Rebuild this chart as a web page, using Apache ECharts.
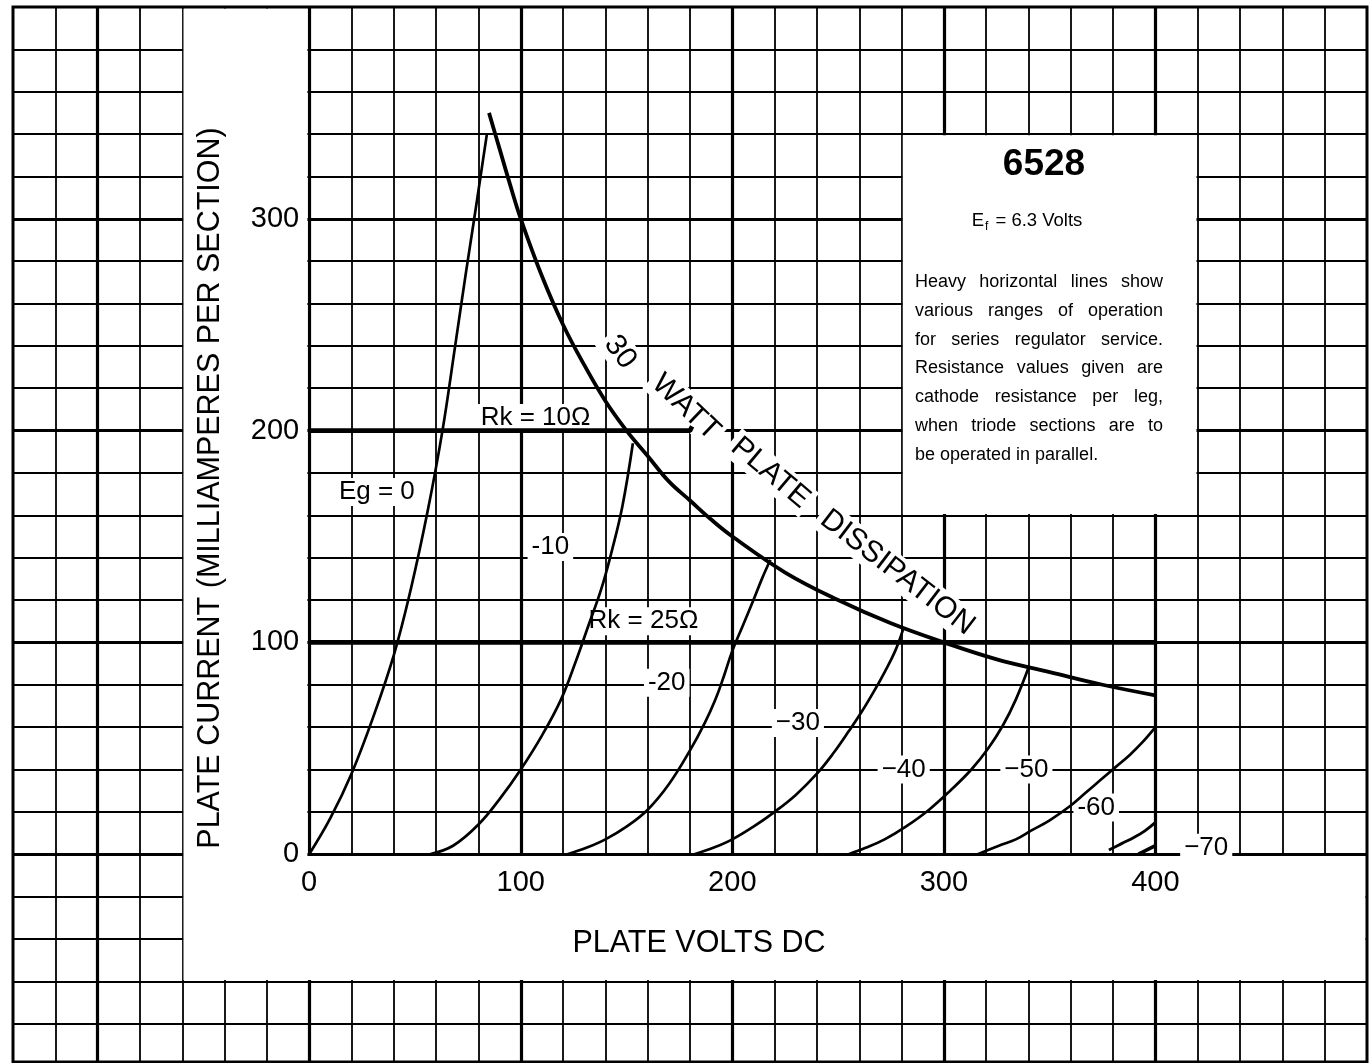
<!DOCTYPE html>
<html><head><meta charset="utf-8">
<script src="https://cdn.jsdelivr.net/npm/echarts/dist/echarts.min.js"></script>
<style>html,body{margin:0;padding:0;background:#fff}#c{width:1369px;height:1063px}</style>
</head><body><div id="c"></div>
<script>
// ---------- data ----------
const xTickLabels = [0, 100, 200, 300, 400];
const yTickLabels = [0, 100, 200, 300];
const heavyX = [-100, 0, 100, 200, 300, 400];
const heavyY = [0, 100, 200, 300];
const curveEg0  = [[0,0],[10,17],[20,38],[30,64],[40,94],[48,125],[56,162],[63,200],[69,240],[74,274],[78,300],[81,320],[84,340]];
const curveEg10 = [[57,0],[68,4],[80,14],[90,26],[100,40],[110,56],[119,73],[126,91],[132,108],[138,125],[143,143],[148,164],[153,194]];
const curveEg20 = [[122,0],[131,3],[140,7],[150,13],[160,21],[170,33],[180,49],[187,62],[192,73],[196,84],[200,96],[205,108],[210,120],[214,130],[218,139]];
const curveEg30 = [[182,0],[191,3],[200,7],[210,13],[220,20],[230,28],[240,38],[248,48],[255,58],[261,67],[267,77],[272,86],[277,96],[281,107]];
const curveEg40 = [[255,0],[263,3],[272,7],[282,13],[293,21],[303,30],[313,40],[321,50],[328,61],[334,73],[340,88]];
const curveEg50 = [[316,0],[326,4],[334,7],[341,11],[350,16],[360,23],[367,29],[374,35],[381,41],[388,47],[394,53],[400,60]];
const curveEg60 = [[378,2],[384,5],[390,8],[395,11],[400,15]];
const curveEg70 = [[392,0],[400,4]];
const watt30 = [[85,350],[90,333],[95,316],[100,300],[110,273],[120,250],[130,231],[140,214],[150,200],[160,188],[170,176],[180,167],[190,158],[200,150],[225,133],[250,120],[275,109],[300,100],[325,92],[350,86],[375,80],[400,75]];
const rk10 = [[0,200],[180,200],[181,202]];
const rk25 = [[0,100],[400,100]];
const curveLabelText = ['Eg = 0', '-10', '-20', '\u221230', '\u221240', '\u221250', '-60', '\u221270', 'Rk = 10\u03A9', 'Rk = 25\u03A9'];
const dissipationWords = ['30', 'WATT', 'PLATE', 'DISSIPATION'];
const noteLines = ['Heavy horizontal lines show','various ranges of operation','for series regulator service.','Resistance values given are','cathode resistance per leg,','when triode sections are to','be operated in parallel.'];
const titleText = '6528';
const yTitle = 'PLATE CURRENT (MILLIAMPERES PER SECTION)';
const xTitle = 'PLATE VOLTS DC';

// ---------- chart ----------
const F = '"Liberation Sans", Arial, sans-serif';
const GX = {min:-140, max:500}, GY = {min:-100, max:400};
const GRID = {left:13, top:7, width:1354, height:1059};
const chart = echarts.init(document.getElementById('c'));
function curve(d, w, z) {
  return {type:'line', data:d, xAxisIndex:0, yAxisIndex:0, showSymbol:false, smooth:0.4, silent:true,
          lineStyle:{color:'#000', width:w}, z:z||4, animation:false};
}
const yAxisShift = -(0 - GX.min) / (GX.max - GX.min) * GRID.width;
const xAxisShift = -(0 - GY.min) / (GY.max - GY.min) * GRID.height;
const option = {
  animation:false,
  backgroundColor:'#fff',
  grid:{left:GRID.left, top:GRID.top, width:GRID.width, height:GRID.height, containLabel:false, outerBoundsMode:'none'},
  xAxis:[
    {type:'value', min:GX.min, max:GX.max, interval:20, position:'bottom', z:0,
     axisLine:{show:false, onZero:false}, axisTick:{show:false}, axisLabel:{show:false},
     splitLine:{show:true, lineStyle:{color:'#000', width:1.8}}},
    {type:'value', min:GX.min, max:GX.max, interval:20, position:'bottom', z:5, offset:xAxisShift,
     axisLine:{show:false, onZero:false}, axisTick:{show:false},
     splitLine:{show:false},
     axisLabel:{formatter:v => xTickLabels.includes(v) ? String(v) : '', fontSize:29, fontFamily:F, color:'#000', margin:14}}
  ],
  yAxis:[
    {type:'value', min:GY.min, max:GY.max, interval:20, position:'left', z:0,
     axisLine:{show:false, onZero:false}, axisTick:{show:false}, axisLabel:{show:false},
     splitLine:{show:true, lineStyle:{color:'#000', width:1.8}}},
    {type:'value', min:GY.min, max:GY.max, interval:20, position:'left', z:5, offset:yAxisShift,
     axisLine:{show:false, onZero:false}, axisTick:{show:false},
     splitLine:{show:false},
     axisLabel:{formatter:v => yTickLabels.includes(v) ? String(v) : '', fontSize:29, fontFamily:F, color:'#000', margin:10}}
  ],
  series:[
    {type:'line', data:[], xAxisIndex:0, yAxisIndex:0, z:1, silent:true,
     markLine:{z:1, silent:true, symbol:'none', animation:false, label:{show:false},
       lineStyle:{color:'#000', width:3.2, type:'solid'},
       data:[...heavyX.map(v => ({xAxis:v})), ...heavyY.map(v => ({yAxis:v}))]}},
    {type:'line', data:[], xAxisIndex:0, yAxisIndex:0, z:2, silent:true,
     markArea:{z:2, silent:true, animation:false, itemStyle:{color:'#fff', opacity:1},
       data:[
         [{coord:[-59.4,-59.4]},{coord:[-0.85,399.3]}],
         [{coord:[-3,-59.4]},{coord:[499.3,-0.85]}],
         [{coord:[280.6,160.6]},{coord:[419.4,339.4]}]
       ]}},
    curve(curveEg0, 2.7), curve(curveEg10, 2.7), curve(curveEg20, 2.7), curve(curveEg30, 2.7),
    curve(curveEg40, 2.7), curve(curveEg50, 2.7), curve(curveEg60, 2.9), curve(curveEg70, 3.6),
    curve(watt30, 3.8),
    {type:'line', data:rk10, showSymbol:false, silent:true, lineStyle:{color:'#000', width:4.6}, z:4},
    {type:'line', data:rk25, showSymbol:false, silent:true, lineStyle:{color:'#000', width:4.6}, z:4}
  ]
};
chart.setOption(option);

const P = (v, i) => chart.convertToPixel({xAxisIndex:0, yAxisIndex:0}, [v, i]);
function txt(x, y, text, font, opts) {
  opts = opts || {};
  return {type:'text', x:x, y:y, rotation:opts.rot || 0, z:opts.z || 3, silent:true,
    style:{x:0, y:0, text:text, font:font, fill:'#000',
      align:opts.align || 'center', textAlign:opts.align || 'center',
      verticalAlign:'middle', textVerticalAlign:'middle',
      backgroundColor:opts.bg ? '#fff' : null, padding:opts.bg ? [1,4,1,4] : 0}};
}
const labelAt = [[32,171],[114,145],[169,81],[231,62],[281,40],[339,40],[372,22],[424,3],[107,206],[158,110]];
const dissAt = [[147,237,-0.92],[178,211,-0.76],[218,180,-0.70],[278,133,-0.655]];
const g = [];
curveLabelText.forEach((t, k) => { const p = P(labelAt[k][0], labelAt[k][1]); g.push(txt(p[0], p[1], t, '26px ' + F, {bg:true})); });
dissipationWords.forEach((t, k) => { const p = P(dissAt[k][0], dissAt[k][1]); g.push(txt(p[0], p[1], t, '30px ' + F, {bg:true, rot:dissAt[k][2]})); });
g.push(txt(211, 488, yTitle, '30.5px ' + F, {rot:Math.PI/2, z:6}));
g.push(txt(699, 944, xTitle, '30.5px ' + F, {z:6}));
g.push(txt(1044, 165, titleText, 'bold 37px ' + F, {z:6}));
g.push({type:'text', x:1027, y:221, z:6, silent:true,
  style:{x:0, y:0, text:'{a|E}{b|f}{a| = 6.3 Volts}', align:'center', textAlign:'center', verticalAlign:'middle', textVerticalAlign:'middle',
    rich:{a:{font:'18.5px ' + F, fill:'#000', color:'#000', lineHeight:24, verticalAlign:'middle'},
          b:{font:'12px ' + F, fill:'#000', color:'#000', lineHeight:24, verticalAlign:'bottom', padding:[9,2,0,1]}}}});
// justified note text
const NOTE_FONT = '18px ' + F;
const ctx = document.createElement('canvas').getContext('2d');
ctx.font = NOTE_FONT;
noteLines.forEach((line, k) => {
  const y = 282 + k * 28.8;
  const words = line.split(' ');
  if (k === noteLines.length - 1) { g.push(txt(915, y, line, NOTE_FONT, {align:'left', z:6})); return; }
  const ws = words.map(w => ctx.measureText(w).width);
  const gap = (248 - ws.reduce((a, b) => a + b, 0)) / (words.length - 1);
  let x = 915;
  words.forEach((w, i) => { g.push(txt(x, y, w, NOTE_FONT, {align:'left', z:6})); x += ws[i] + gap; });
});
g.push({type:'rect', z:10, silent:true, shape:{x:13, y:7, width:1354, height:1055},
  style:{fill:null, stroke:'#000', lineWidth:3}});
chart.setOption({graphic:g});
</script>
</body></html>
